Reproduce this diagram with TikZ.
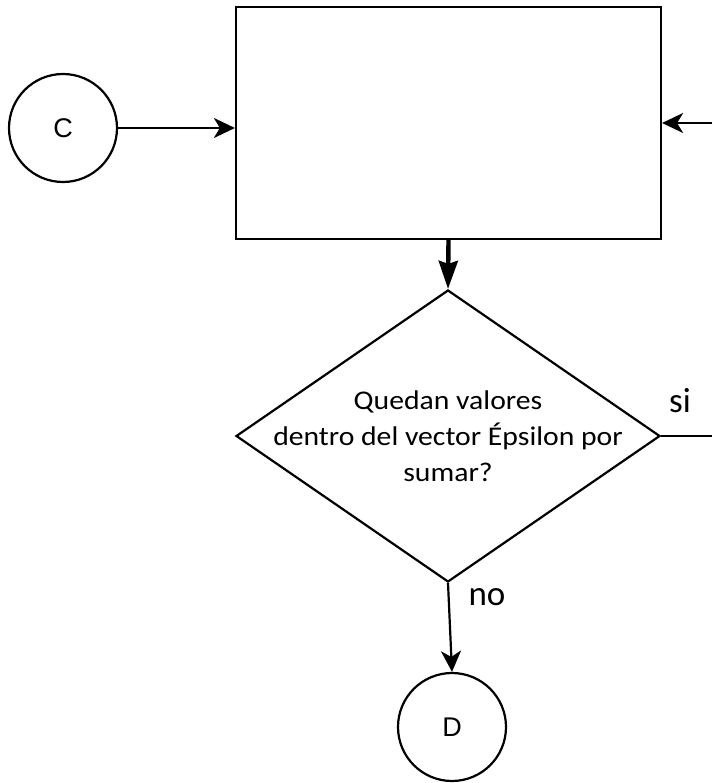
\documentclass[tikz,border=0pt]{standalone}
\usepackage{fontspec}
\setmainfont{Carlito}
\newfontfamily\arialfont{Liberation Sans}
\newfontfamily\widefont[FakeStretch=1.1]{Carlito}
\usetikzlibrary{shapes.geometric,arrows.meta}
\begin{document}
\begin{tikzpicture}[x=1pt,y=-1pt,
  connector/.style={line width=2.2pt,-{Stealth[length=21pt,width=20pt,inset=6pt]}},
  bigconnector/.style={line width=4.4pt,-{Stealth[length=28pt,width=19pt,inset=3pt]}},
  plainline/.style={line width=2.2pt},
  connnode/.style={circle,draw,line width=2.2pt,minimum size=108pt,inner sep=0pt,font=\arialfont\fontsize{27}{32}\selectfont},
  procbox/.style={rectangle,draw,line width=2.2pt,minimum width=425pt,minimum height=232pt,inner sep=0pt},
  decision/.style={diamond,draw,line width=2.2pt,minimum width=424pt,minimum height=292pt,inner sep=0pt},
  qtext/.style={align=center,font=\widefont\fontsize{27}{36}\selectfont},
  branchlabel/.style={font=\fontsize{35}{40}\selectfont,inner sep=0pt}]
  \useasboundingbox (0,0) rectangle (712,783);
  % flowchart nodes
  \node[connnode] (c) at (63,128) {C};
  \node[procbox] (box) at (448.5,123) {};
  \node[decision] (dec) at (448,436) {};
  \node[qtext] (q) at (448,436) {Quedan valores\\dentro del vector Épsilon por\\sumar?};
  \node[connnode] (d) at (452,727) {D};
  % loose ends leaving the page on the right
  \coordinate (inright) at (712,123);
  \coordinate (outright) at (712,436);
  % connectors
  \draw[connector] (c.east) -- (box.west |- c.east);
  \draw[connector] (inright) -- (box.east);
  \draw[bigconnector] (box.south) -- (dec.north);
  \draw[plainline] (dec.east) -- (outright);
  \draw[connector] (dec.south) -- (d.north);
  % branch labels
  \node[branchlabel] (si) at (680,401) {si};
  \node[branchlabel] (no) at (487,597) {no};
\end{tikzpicture}
\end{document}
